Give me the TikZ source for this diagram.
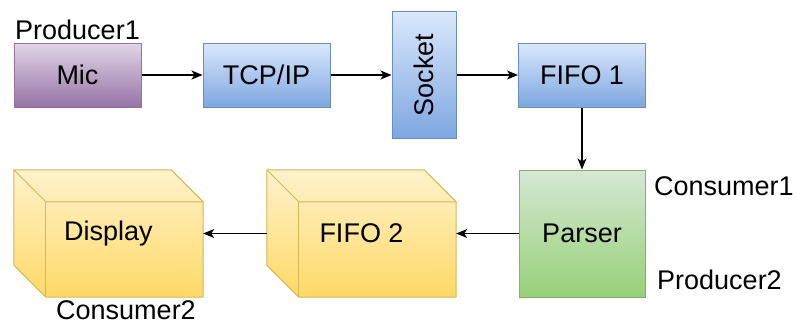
\documentclass[tikz,border=0pt]{standalone}
\usepackage{fontspec}
\setmainfont{Liberation Sans}
\usetikzlibrary{arrows.meta,calc}

\definecolor{purpTop}{HTML}{E1D5E7}
\definecolor{purpBot}{HTML}{9673A6}
\definecolor{purpLine}{HTML}{9673A6}
\definecolor{blueTop}{HTML}{DAE8FC}
\definecolor{blueBot}{HTML}{7EA6E0}
\definecolor{blueLine}{HTML}{6C8EBF}
\definecolor{greenTop}{HTML}{D5E8D4}
\definecolor{greenBot}{HTML}{97D077}
\definecolor{greenLine}{HTML}{82B366}
\definecolor{yelTop}{HTML}{FFF2CC}
\definecolor{yelBot}{HTML}{FFD966}
\definecolor{yelLine}{HTML}{D6B656}

\tikzset{
  lbl/.style={font=\fontsize{27}{32}\selectfont, inner sep=0pt},
  block/.style={lbl, draw, line width=1pt, minimum width=127pt, minimum height=64pt},
  purpbox/.style={block, draw=purpLine, top color=purpTop, bottom color=purpBot},
  bluebox/.style={block, draw=blueLine, top color=blueTop, bottom color=blueBot},
  greenbox/.style={block, draw=greenLine, top color=greenTop, bottom color=greenBot},
  cubebox/.style={lbl, minimum width=189pt, minimum height=127pt},
  flow/.style={line width=1.3pt, -{Stealth[length=11pt,width=9pt,inset=3pt]}},
}

% cube outline drawn inside the bounding box of a named node
\newcommand\drawcube[2][32]{%
  \shade[top color=yelTop, bottom color=yelBot]
    (#2.north west) -- ($(#2.north east)+(-#1,0)$) -- ($(#2.north east)+(0,#1)$)
    -- (#2.south east) -- ($(#2.south west)+(#1,0)$) -- ($(#2.south west)+(0,-#1)$) -- cycle;
  \draw[yelLine, line width=1pt, line join=round]
    (#2.north west) -- ($(#2.north east)+(-#1,0)$) -- ($(#2.north east)+(0,#1)$)
    -- (#2.south east) -- ($(#2.south west)+(#1,0)$) -- ($(#2.south west)+(0,-#1)$) -- cycle;
  \draw[yelLine, line width=1pt, line join=round]
    (#2.north west) -- ($(#2.north west)+(#1,#1)$) -- ($(#2.north east)+(0,#1)$);
  \draw[yelLine, line width=1pt]
    ($(#2.north west)+(#1,#1)$) -- ($(#2.south west)+(#1,0)$);
}

\begin{document}
\begin{tikzpicture}[x=1pt, y=-1pt]
  \useasboundingbox (0,0) rectangle (798,324);

  % top row
  \node[purpbox] (mic) at (77.5,75) {Mic};
  \node[bluebox] (tcp) at (266.5,75) {TCP/IP};
  \node[bluebox, minimum width=64pt, minimum height=127pt] (sock) at (424,75) {\rotatebox{90}{Socket}};
  \node[bluebox] (fifo1) at (582,75) {FIFO 1};

  % bottom row
  \node[greenbox, minimum width=126pt, minimum height=127pt] (parser) at (582,233.5) {};
  \node[cubebox] (fifo2) at (361.5,233.5) {};
  \node[cubebox] (disp) at (108.5,233.5) {};
  \drawcube{fifo2}
  \drawcube{disp}
  \node[lbl] (parsertxt) at (parser.center) {Parser};
  \node[lbl] (fifo2txt) at (fifo2.center) {FIFO 2};
  \node[lbl] (disptxt) at (disp.center) {Display};

  % role labels
  \node[lbl, anchor=base] (prod1) at (77.5,39) {Producer1};
  \node[lbl, anchor=base west] (cons1) at (654,195) {Consumer1};
  \node[lbl, anchor=base west] (prod2) at (657,289.5) {Producer2};
  \node[lbl, anchor=base] (cons2) at (126,319) {Consumer2};

  % data flow
  \draw[flow] (mic.east) -- (tcp.west);
  \draw[flow] (tcp.east) -- (tcp.east -| sock.west);
  \draw[flow] (sock.east |- fifo1.west) -- (fifo1.west);
  \draw[flow] (fifo1.south) -- (parser.north);
  \draw[flow] (parser.west) -- (fifo2.east);
  \draw[flow] (fifo2.west) -- (disp.east);
\end{tikzpicture}
\end{document}
